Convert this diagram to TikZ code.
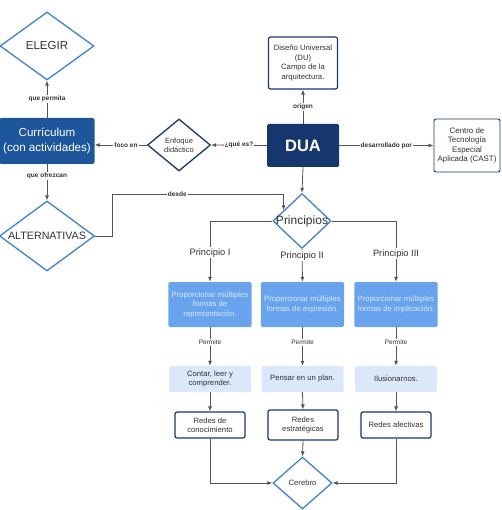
\documentclass[tikz,border=0pt]{standalone}
\usepackage{fontspec}
\setmainfont{Liberation Sans}
\usepackage{xcolor}
\definecolor{navy}{RGB}{22,55,110}
\definecolor{curblue}{RGB}{30,86,156}
\definecolor{diablue}{RGB}{62,130,210}
\definecolor{midblue}{RGB}{104,164,238}
\definecolor{paleblue}{RGB}{219,232,250}
\definecolor{linegray}{RGB}{85,85,85}
\definecolor{darktxt}{RGB}{50,50,50}
\usepackage{tikz}
\usetikzlibrary{shapes.geometric}
\usetikzlibrary{positioning}
\usetikzlibrary{arrows.meta}

\begin{document}
\begin{tikzpicture}[x=1pt,y=-1pt,
  dia/.style={diamond,draw=diablue,line width=1.3pt,fill=white,inner sep=0pt},
  conn/.style={draw=linegray,line width=0.8pt,-{Latex[length=5pt,width=4pt]}},
  lab/.style={fill=white,inner sep=1pt,text=darktxt,font=\fontsize{6.5}{7}\selectfont\bfseries},
  plab/.style={fill=white,inner sep=1pt,text=darktxt,font=\fontsize{9.3}{10}\selectfont},
  whitebox/.style={draw=navy,line width=1.2pt,rounded corners=2pt,fill=white,align=center,text=darktxt,font=\fontsize{7.7}{9.5}\selectfont},
  blubox/.style={fill=midblue,rounded corners=1.5pt,align=center,text=paleblue,minimum width=82pt,minimum height=45pt,font=\fontsize{7.7}{9.5}\selectfont},
  palebox/.style={fill=paleblue,rounded corners=1.5pt,align=center,text=darktxt,minimum width=82pt,minimum height=26pt,font=\fontsize{7.7}{9.5}\selectfont}]
\useasboundingbox (0,0) rectangle (501,510);

% left column
\node[dia,minimum width=94pt,minimum height=68pt,label={[text=darktxt,font=\fontsize{11.5}{13}\selectfont]center:ELEGIR}] (elegir) at (47,46) {};
\node[fill=curblue,rounded corners=2pt,minimum width=95pt,minimum height=46pt,align=center,text=white,font=\fontsize{11.6}{15}\selectfont] (curric) at (47,141) {Currículum\\(con actividades)};
\node[dia,minimum width=95pt,minimum height=70pt,label={[text=darktxt,font=\fontsize{10.7}{12}\selectfont]center:ALTERNATIVAS}] (alt) at (47,236) {};
\node[dia,draw=navy,minimum width=63pt,minimum height=52pt,label={[align=center,text=darktxt,font=\fontsize{7.5}{9}\selectfont]center:Enfoque\\didáctico}] (enf) at (179,145) {};

% DUA and neighbours
\node[fill=navy,rounded corners=1.5pt,minimum width=72pt,minimum height=43pt,text=white,font=\fontsize{16.5}{18}\selectfont\bfseries] (dua) at (303,145.5) {DUA};
\node[whitebox,minimum width=69pt,minimum height=52pt] (du) at (303,63) {Diseño Universal\\(DU)\\Campo de la\\arquitectura.};
\node[whitebox,line width=0.9pt,minimum width=66pt,minimum height=53pt,font=\fontsize{7.9}{9.6}\selectfont] (cast) at (467,145.5) {Centro de\\Tecnología\\Especial\\Aplicada (CAST)};

\node[dia,minimum width=58pt,minimum height=55pt,label={[text=darktxt,font=\fontsize{12}{13}\selectfont]center:Principios}] (prin) at (302,221) {};

% principles
\node[blubox] (pb1) at (210,304.5) {Proporcionar múltiples\\formas de\\representación.};
\node[blubox] (pb2) at (302.5,304.5) {Proporcionar múltiples\\formas de expresión.};
\node[blubox] (pb3) at (396,304.5) {Proporcionar múltiples\\formas de implicación.};
\node[palebox] (lb1) at (210,379) {Contar, leer y\\comprender.};
\node[palebox] (lb2) at (302.5,379) {Pensar en un plan.};
\node[palebox] (lb3) at (396,379) {Ilusionarnos.};
\node[whitebox,minimum width=70pt,minimum height=26pt] (rb1) at (210,425) {Redes de\\conocimiento};
\node[whitebox,minimum width=70pt,minimum height=30pt] (rb2) at (303,425) {Redes\\estratégicas};
\node[whitebox,minimum width=70pt,minimum height=26pt] (rb3) at (396,425) {Redes afectivas};
\node[dia,minimum width=59pt,minimum height=52pt,label={[text=darktxt,font=\fontsize{7.7}{9}\selectfont]center:Cerebro}] (cer) at (302.5,483) {};

% connectors
\draw[conn] (curric.north) -- node[lab] {que permita} (elegir.south);
\draw[conn] (curric.south) -- node[lab,pos=0.33] {que ofrezcan} (alt.north);
\draw[conn] (enf.west) -- node[lab,pos=0.4] {foco en} (enf.west -| curric.east);
\draw[conn] (dua.west) -- node[lab] {¿qué es?} (enf.east);
\draw[conn] (dua.north) -- node[lab] {origen} (du.south);
\draw[conn] (dua.east) -- node[lab] {desarrollado por} (cast.west);
\draw[conn] (dua.south) -- (prin.north);
\draw[conn] (alt.east) -- ++(17,0) |- ([yshift=16pt]prin.150) node[lab,pos=0.69] {desde} -- (prin.150);
\draw[conn] (prin.west) -| node[plab,pos=0.76] {Principio I} (pb1.north);
\draw[conn] (prin.south) -- node[plab,pos=0.2] {Principio II} (pb2.north);
\draw[conn] (prin.east) -| node[plab,pos=0.77] {Principio III} (pb3.north);
\foreach \i in {1,2,3}{
  \draw[conn] (pb\i.south) -- node[lab,pos=0.4,font=\fontsize{6.5}{7}\selectfont] {Permite} (lb\i.north);
  \draw[conn] (lb\i.south) -- (rb\i.north);
}
\draw[conn] (rb1.south) |- (cer.west);
\draw[conn] (rb2.south) -- (cer.north);
\draw[conn] (rb3.south) |- (cer.east);
\end{tikzpicture}
\end{document}
